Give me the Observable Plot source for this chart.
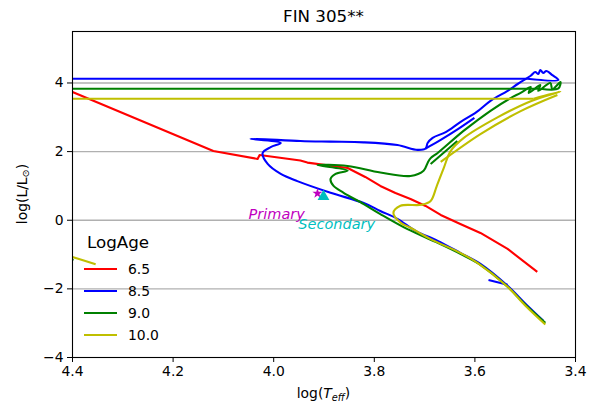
<!DOCTYPE html>
<html><head><meta charset="utf-8">
<script src="https://cdn.jsdelivr.net/npm/d3@7"></script>
<script src="https://cdn.jsdelivr.net/npm/@observablehq/plot@0.6"></script>
<style>
body{margin:0;background:#fff;font-family:"DejaVu Sans",sans-serif;}
#wrap{position:relative;width:598px;height:408px;overflow:hidden;}
</style></head><body><div id="wrap"></div>
<script>
// ---- data ----
const title = "FIN 305**";
const ages = ["6.5", "8.5", "9.0", "10.0"];
const colors = ["#ff0000", "#0000ff", "#008000", "#bfbf00"];
const xTicks = [4.4, 4.2, 4.0, 3.8, 3.6, 3.4];
const yTicks = [-4, -2, 0, 2, 4];
const gridTicks = [-2, 0, 2, 4];

// isochrones: list of segments of [logTeff, logL]
const iso65 = [
  [[4.45,4.04],[4.400,3.737],[4.120,2.019],[4.032,1.786],[4.028,1.902],[3.947,1.742],[3.933,1.68],[3.853,1.523],[3.818,1.261],[3.788,0.999],[3.758,0.795],[3.728,0.620],[3.698,0.417],[3.668,0.154],[3.629,-0.108],[3.589,-0.370],[3.535,-0.836],[3.476,-1.506]]
];
const iso85 = [
  [[3.573,-1.74],[3.535,-1.88]],
  [[3.464,-2.93],[3.499,-2.44],[3.535,-1.91],[3.589,-1.27],[3.629,-0.95],[3.674,-0.60],[3.718,-0.31],[3.754,0.04],[3.788,0.27],[3.821,0.50],[3.887,0.80],[3.953,1.14],[3.986,1.35],[4.012,1.64],[4.022,1.96],[4.006,2.13],[3.986,2.25],[4.046,2.37],[3.947,2.31],[3.887,2.29],[3.821,2.27],[3.754,2.19],[3.714,2.05],[3.698,2.09],[3.694,2.25],[3.684,2.40],[3.658,2.57],[3.629,2.86],[3.597,3.15],[3.569,3.48],[3.535,3.77],[3.515,3.97],[3.489,4.21],[3.480,4.32],[3.474,4.26],[3.470,4.38],[3.464,4.29],[3.458,4.35],[3.446,4.23],[3.434,4.09],[3.496,4.125]],
  [[3.496,4.125],[4.4,4.125]],
  [[3.698,2.09],[3.668,2.34],[3.633,2.66],[3.601,2.98]]
];
const iso90 = [
  [[3.460,-2.99],[3.499,-2.47],[3.535,-1.94],[3.589,-1.30],[3.629,-0.98],[3.674,-0.66],[3.734,-0.26],[3.788,0.18],[3.821,0.47],[3.861,0.80],[3.881,1.00],[3.887,1.20],[3.877,1.35],[3.853,1.45],[3.913,1.61],[3.853,1.58],[3.788,1.39],[3.728,1.29],[3.702,1.44],[3.694,1.67],[3.688,1.81],[3.674,1.96],[3.622,2.61],[3.569,3.19],[3.529,3.56],[3.509,3.71],[3.489,3.88],[3.493,3.71],[3.470,3.94],[3.474,3.77],[3.450,4.00],[3.446,3.82],[3.430,4.03],[3.434,3.84],[3.470,3.83]],
  [[3.470,3.83],[4.4,3.83]],
  [[3.688,1.64],[3.635,2.31]],
  [[4.42,-1.06],[4.398,-1.16]]
];
const iso100 = [
  [[3.460,-3.04],[3.499,-2.50],[3.535,-1.94],[3.595,-1.24],[3.629,-0.95],[3.688,-0.55],[3.728,-0.22],[3.748,-0.07],[3.762,0.21],[3.748,0.42],[3.706,0.45],[3.688,0.56],[3.676,0.99],[3.662,1.52],[3.648,2.02],[3.622,2.40],[3.556,2.99],[3.489,3.47],[3.430,3.75],[3.483,3.54]],
  [[3.483,3.54],[4.4,3.54]],
  [[3.668,1.70],[3.589,2.51],[3.509,3.18],[3.436,3.65]],
  [[4.42,-0.98],[4.4,-1.07],[4.354,-1.28]]
];
const stars = [
  {name: "Primary", T: 3.913, L: 0.78, labelT: 4.05, labelL: 0.18, color: "#bf00bf", symbol: "star"},
  {name: "Secondary", T: 3.901, L: 0.69, labelT: 3.951, labelL: -0.12, color: "#00bfbf", symbol: "triangle"}
];

// ---- build ----
const isos = [iso65, iso85, iso90, iso100];
function rows(iso, i) {
  const out = [];
  iso.forEach((seg, j) => seg.forEach(([T, L]) => out.push({age: ages[i], seg: ages[i] + "-" + j, T, L})));
  return out;
}
const minus = d => d < 0 ? "\u2212" + Math.abs(d) : String(d);

const lineMarks = isos.map((iso, i) => Plot.line(rows(iso, i), {
  x: "T", y: "L", z: "seg", stroke: colors[i], strokeWidth: 2.1, clip: true,
  curve: i === 0 ? "linear" : "catmull-rom", strokeLinejoin: "round", strokeLinecap: "butt"
}));

const chart = Plot.plot({
  width: 598, height: 408,
  marginTop: 31, marginBottom: 51, marginLeft: 72, marginRight: 23,
  x: {domain: [4.4, 3.4], ticks: xTicks, tickFormat: d3.format(".1f"), tickSize: 5, tickPadding: 4, label: null},
  y: {domain: [-4, 5.5], ticks: yTicks, tickFormat: minus, tickSize: 5, tickPadding: 4, label: null},
  style: {fontFamily: "DejaVu Sans", fontSize: "13.9px", color: "black", background: "white"},
  marks: [
    Plot.ruleY(gridTicks, {stroke: "#b0b0b0", strokeWidth: 1.4}),
    ...lineMarks,
    Plot.dot(stars.filter(s => s.symbol === "star"), {x: "T", y: "L", symbol: "star", fill: "color", r: 3.2}),
    Plot.dot(stars.filter(s => s.symbol === "triangle"), {x: "T", y: "L", symbol: "triangle", fill: "color", r: 4.4}),
    Plot.text(stars, {x: "labelT", y: "labelL", text: "name", fill: "color", textAnchor: "start", fontStyle: "italic", fontSize: 14.5}),
    Plot.frame({stroke: "black", strokeWidth: 1.1})
  ]
});
document.getElementById("wrap").appendChild(chart);

// titles & axis labels
const svg = d3.select(chart);
svg.append("text").attr("x", 323.5).attr("y", 22).attr("text-anchor", "middle")
  .attr("font-size", 16.7).attr("fill", "black").text(title);

const xl = svg.append("text").attr("x", 323.5).attr("y", 398).attr("text-anchor", "middle")
  .attr("font-size", 13.9).attr("fill", "black");
xl.append("tspan").text("log(");
xl.append("tspan").attr("font-style", "italic").text("T");
xl.append("tspan").attr("font-style", "italic").attr("font-size", 9.7).attr("dy", 3).text("eff");
xl.append("tspan").attr("dy", -3).text(")");

const yl = svg.append("text").attr("transform", "translate(27,194) rotate(-90)").attr("text-anchor", "middle")
  .attr("font-size", 13.9).attr("fill", "black");
yl.append("tspan").text("log(L/L");
yl.append("tspan").attr("font-size", 9.7).attr("dy", 2).text("\u2299");
yl.append("tspan").attr("dy", -2).text(")");

// legend
const lg = svg.append("g").attr("text-anchor", "start");
lg.append("text").attr("x", 87).attr("y", 248).attr("text-anchor", "start").attr("font-size", 16.7).attr("fill", "black").text("LogAge");
ages.forEach((a, i) => {
  const y = 269 + i * 22;
  lg.append("line").attr("x1", 84).attr("x2", 117).attr("y1", y).attr("y2", y)
    .attr("stroke", colors[i]).attr("stroke-width", 2.1);
  lg.append("text").attr("x", 128).attr("y", y + 5).attr("text-anchor", "start").attr("font-size", 13.9).attr("fill", "black").text(a);
});
</script>
</body></html>
